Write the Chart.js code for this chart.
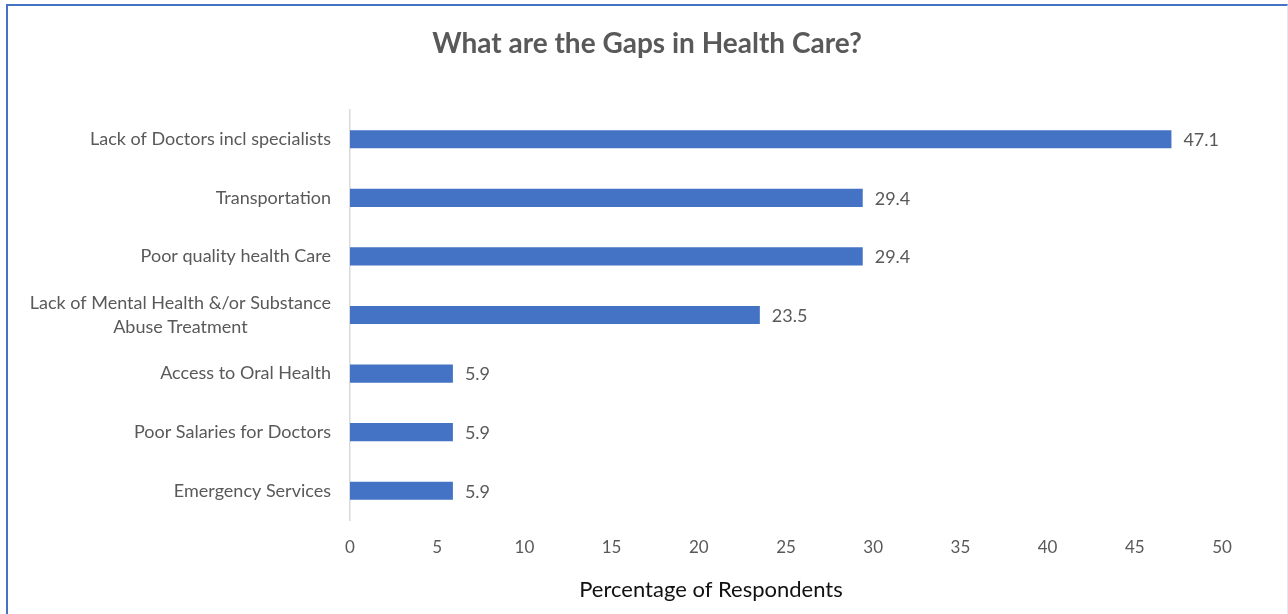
<!DOCTYPE html>
<html>
<head>
<meta charset="utf-8">
<script src="https://cdn.jsdelivr.net/npm/chart.js@4"></script>
<style>
  html, body { margin: 0; padding: 0; background: #fff; }
  #wrap { position: relative; width: 1288px; height: 614px; }
  #frame {
    position: absolute; left: 6px; top: 4px; right: 0; bottom: -2px;
    border-top: 2px solid #4472C4; border-left: 2px solid #4472C4;
    border-right: 1px solid #e6e6f4;
    pointer-events: none;
  }
</style>
</head>
<body>
<div id="wrap">
  <canvas id="gapsChart" width="1288" height="614"></canvas>
  <div id="frame"></div>
</div>
<script>
const categories = [
  'Lack of Doctors incl specialists',
  'Transportation',
  'Poor quality health Care',
  ['Lack of Mental Health &/or Substance', 'Abuse Treatment'],
  'Access to Oral Health',
  'Poor Salaries for Doctors',
  'Emergency Services'
];
const percentages = [47.1, 29.4, 29.4, 23.5, 5.9, 5.9, 5.9];
const xTicks = [0, 5, 10, 15, 20, 25, 30, 35, 40, 45, 50];
const chartTitle = 'What are the Gaps in Health Care?';
const xTitle = 'Percentage of Respondents';

const FONT = 'Lato, "Open Sans", sans-serif';
const GREY = '#595959';

// chart title and x axis title
const titles = {
  id: 'titles',
  afterDraw(chart) {
    const ctx = chart.ctx;
    ctx.save();
    ctx.textAlign = 'center';
    ctx.textBaseline = 'middle';
    ctx.fillStyle = GREY;
    ctx.font = 'bold 28px ' + FONT;
    ctx.fillText(chartTitle, 647, 44);
    ctx.fillStyle = '#111';
    ctx.font = '22px ' + FONT;
    ctx.fillText(xTitle, 711, 590);
    ctx.restore();
  }
};

// category names, right-aligned block with each line centred inside it
const categoryLabels = {
  id: 'categoryLabels',
  afterDraw(chart) {
    const ctx = chart.ctx;
    const y = chart.scales.y;
    const right = y.right - 19;
    ctx.save();
    ctx.font = '18px ' + FONT;
    ctx.fillStyle = GREY;
    ctx.textAlign = 'center';
    ctx.textBaseline = 'middle';
    categories.forEach((cat, i) => {
      const lines = Array.isArray(cat) ? cat : [cat];
      const w = Math.max(...lines.map(l => ctx.measureText(l).width));
      const cx = right - w / 2;
      const cy = y.getPixelForValue(i);
      const lh = 24;
      lines.forEach((l, j) => {
        ctx.fillText(l, cx, cy + (j - (lines.length - 1) / 2) * lh);
      });
    });
    ctx.restore();
  }
};

// value next to each bar end
const valueLabels = {
  id: 'valueLabels',
  afterDatasetsDraw(chart) {
    const ctx = chart.ctx;
    const meta = chart.getDatasetMeta(0);
    ctx.save();
    ctx.font = '18px ' + FONT;
    ctx.fillStyle = GREY;
    ctx.textAlign = 'left';
    ctx.textBaseline = 'middle';
    meta.data.forEach((bar, i) => {
      ctx.fillText(percentages[i].toFixed(1), bar.x + 12, bar.y + 1);
    });
    ctx.restore();
  }
};

new Chart(document.getElementById('gapsChart'), {
  type: 'bar',
  data: {
    labels: categories,
    datasets: [{
      data: percentages,
      backgroundColor: '#4472C4',
      borderWidth: 0,
      categoryPercentage: 1,
      barPercentage: 0.31
    }]
  },
  options: {
    indexAxis: 'y',
    responsive: false,
    animation: false,
    layout: { padding: { left: 0, right: 66, top: 110, bottom: 0 } },
    scales: {
      x: {
        min: 0,
        max: 50,
        afterBuildTicks: (scale) => { scale.ticks = xTicks.map(v => ({ value: v })); },
        grid: { display: false, drawTicks: false },
        border: { display: false },
        ticks: { color: GREY, font: { family: FONT, size: 17 }, padding: 17 },
        afterFit: (scale) => { scale.height = 94; }
      },
      y: {
        grid: { display: false, drawTicks: false },
        border: { display: true, color: '#d9d9d9', width: 1.5 },
        ticks: { display: false },
        afterFit: (scale) => { scale.width = 350; }
      }
    },
    plugins: {
      legend: { display: false },
      tooltip: { enabled: false },
      title: { display: false }
    }
  },
  plugins: [categoryLabels, valueLabels, titles]
});
</script>
</body>
</html>
